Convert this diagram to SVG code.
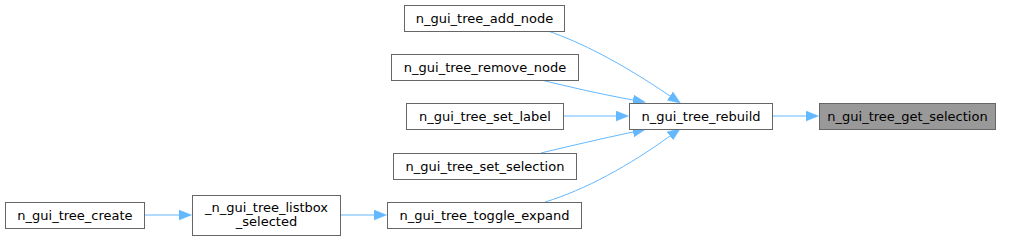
<svg xmlns="http://www.w3.org/2000/svg" width="1009" height="241" viewBox="0 0 1009 241">
<style>
.box{fill:#ffffff;stroke:#666666;stroke-width:1}
.hl{fill:#999999;stroke:#666666;stroke-width:1}
text{font-family:"DejaVu Sans",sans-serif;font-size:13px;fill:#000000;text-anchor:middle}
.e{fill:none;stroke:#63b8ff;stroke-width:1;marker-end:url(#ah)}
</style>
<defs>
<marker id="ah" markerUnits="userSpaceOnUse" markerWidth="13" markerHeight="11" refX="0" refY="5.5" orient="auto" viewBox="0 0 13 11">
<path d="M0,0.5 L12.5,5.5 L0,10.5 z" fill="#63b8ff" stroke="#63b8ff" stroke-width="0.5"/>
</marker>
</defs>
<rect width="1009" height="241" fill="#ffffff"/>
<g id="connectors">
<path class="e" d="M772,116 H806"/>
<path class="e" d="M563,116 H616"/>
<path class="e" d="M144,215 H179"/>
<path class="e" d="M340,215 H374"/>
<path class="e" d="M548,31 C580,42 620,62 670,96"/>
<path class="e" d="M541,80 C570,87 600,94 633,100"/>
<path class="e" d="M541,153 C570,146 600,139 633,132"/>
<path class="e" d="M545,202 C585,190 630,165 670,136"/>
</g>
<g id="n_gui_tree_get_selection"><rect class="hl" x="819.5" y="103.5" width="176" height="26"/><text x="907.5" y="120.5">n_gui_tree_get_selection</text></g>
<g id="n_gui_tree_rebuild"><rect class="box" x="629.5" y="103.5" width="143" height="26"/><text x="701" y="120.5">n_gui_tree_rebuild</text></g>
<g id="n_gui_tree_add_node"><rect class="box" x="404.5" y="5.5" width="160" height="26"/><text x="484.5" y="22.5">n_gui_tree_add_node</text></g>
<g id="n_gui_tree_remove_node"><rect class="box" x="391.5" y="54.5" width="187" height="26"/><text x="485" y="71.5">n_gui_tree_remove_node</text></g>
<g id="n_gui_tree_set_label"><rect class="box" x="406.5" y="103.5" width="157" height="26"/><text x="485" y="120.5">n_gui_tree_set_label</text></g>
<g id="n_gui_tree_set_selection"><rect class="box" x="393.5" y="153.5" width="183" height="26"/><text x="485" y="170.5">n_gui_tree_set_selection</text></g>
<g id="n_gui_tree_toggle_expand"><rect class="box" x="387.5" y="202.5" width="194" height="26"/><text x="484.5" y="219.5">n_gui_tree_toggle_expand</text></g>
<g id="_n_gui_tree_listbox_selected"><rect class="box" x="192.5" y="195.5" width="148" height="40"/><text x="266.5" y="212">_n_gui_tree_listbox</text><text x="266.5" y="226">_selected</text></g>
<g id="n_gui_tree_create"><rect class="box" x="5.5" y="202.5" width="139" height="26"/><text x="75" y="219.5">n_gui_tree_create</text></g>
</svg>
